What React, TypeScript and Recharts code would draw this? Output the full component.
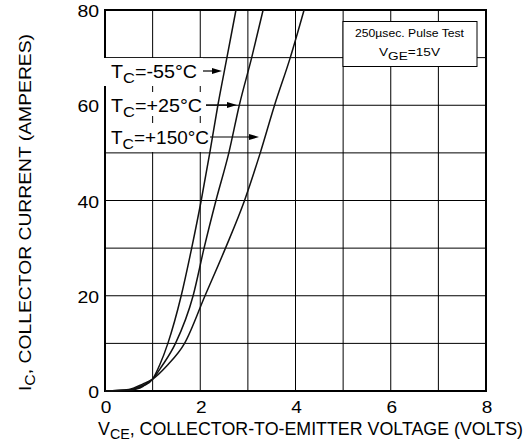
import { LineChart, Line, XAxis, YAxis, CartesianGrid, usePlotArea } from "recharts";

// I-V curves (VCE in volts, IC in amperes)
const T_MINUS55 = [
  { v: 0, i: 0 }, { v: 0.5, i: 0.15 }, { v: 0.8, i: 1.0 }, { v: 1.0, i: 2.5 },
  { v: 1.15, i: 5.5 }, { v: 1.32, i: 10 }, { v: 1.6, i: 20 }, { v: 1.82, i: 30 },
  { v: 2.02, i: 40 }, { v: 2.2, i: 50 }, { v: 2.37, i: 60 }, { v: 2.56, i: 70 }, { v: 2.75, i: 80 },
];
const T_PLUS25 = [
  { v: 0, i: 0 }, { v: 0.5, i: 0.2 }, { v: 0.8, i: 1.2 }, { v: 1.0, i: 2.5 },
  { v: 1.2, i: 5.3 }, { v: 1.48, i: 10 }, { v: 1.85, i: 20 }, { v: 2.08, i: 30 },
  { v: 2.33, i: 40 }, { v: 2.6, i: 50 }, { v: 2.82, i: 60 }, { v: 3.08, i: 70 }, { v: 3.32, i: 80 },
];
const T_PLUS150 = [
  { v: 0, i: 0 }, { v: 0.5, i: 0.3 }, { v: 0.8, i: 1.5 }, { v: 1.0, i: 2.5 },
  { v: 1.3, i: 5.3 }, { v: 1.67, i: 10 }, { v: 2.1, i: 20 },
  { v: 2.53, i: 30 }, { v: 2.93, i: 40 }, { v: 3.26, i: 50 }, { v: 3.56, i: 60 },
  { v: 3.89, i: 70 }, { v: 4.18, i: 80 },
];

const X_TICKS = [0, 1, 2, 3, 4, 5, 6, 7, 8];
const Y_TICKS = [0, 10, 20, 30, 40, 50, 60, 70, 80];

const FONT = "'Liberation Sans', Arial, sans-serif";

function Frame() {
  const p = usePlotArea();
  if (!p) return null;
  return <rect x={p.x} y={p.y} width={p.width} height={p.height} fill="none" stroke="#000" strokeWidth={2} />;
}

function XTick({ x, y, payload }: any) {
  const v = payload.value;
  if (v % 2 !== 0) return null;
  const s = String(v);
  return (
    <text x={x + 1} y={y + 16} textAnchor="middle" fontSize={16} fontFamily={FONT} fill="#000"
      textLength={s.length * 10.6} lengthAdjust="spacingAndGlyphs">
      {s}
    </text>
  );
}

function YTick({ x, y, payload }: any) {
  const v = payload.value;
  if (v % 20 !== 0) return null;
  const s = String(v);
  return (
    <text x={x} y={y + 7} textAnchor="end" fontSize={16} fontFamily={FONT} fill="#000"
      textLength={s.length * 10.8} lengthAdjust="spacingAndGlyphs">
      {s}
    </text>
  );
}

function TempLabel({ y, left, top, h, w, temp, len, arrowTo, arrowFrom }: any) {
  return (
    <g>
      <rect x={left} y={top} width={w} height={h} fill="#fff" />
      <text x={111} y={y + 7} fontSize={18} fontFamily={FONT} fill="#000" textLength={len} lengthAdjust="spacingAndGlyphs">
        T<tspan fontSize={15} dy={5}>C</tspan>
        <tspan dy={-5}>={temp}</tspan>
      </text>
      <line x1={arrowFrom} y1={y} x2={arrowTo - 8} y2={y} stroke="#000" strokeWidth={1.2} />
      <polygon points={`${arrowTo},${y} ${arrowTo - 10},${y - 3} ${arrowTo - 10},${y + 3}`} fill="#000" />
    </g>
  );
}

export default function App() {
  return (
    <div style={{ position: "absolute", left: 0, top: 0, width: 530, height: 442, background: "#fff" }}>
      <LineChart width={530} height={442} margin={{ top: 10, right: 44, bottom: 21, left: 45 }}>
        <CartesianGrid stroke="#000" strokeWidth={1} horizontalValues={Y_TICKS} verticalValues={X_TICKS} />
        <XAxis
          type="number"
          dataKey="v"
          domain={[0, 8]}
          ticks={X_TICKS}
          interval={0}
          axisLine={false}
          tickLine={false}
          tick={<XTick />}
          height={30}
          tickMargin={0}
        />
        <YAxis
          type="number"
          dataKey="i"
          domain={[0, 80]}
          ticks={Y_TICKS}
          interval={0}
          axisLine={false}
          tickLine={false}
          tick={<YTick />}
          width={60}
          tickMargin={0}
        />
        <Line data={T_MINUS55} dataKey="i" type="monotone" stroke="#111" strokeWidth={1.5} dot={false} isAnimationActive={false} />
        <Line data={T_PLUS25} dataKey="i" type="monotone" stroke="#111" strokeWidth={1.5} dot={false} isAnimationActive={false} />
        <Line data={T_PLUS150} dataKey="i" type="monotone" stroke="#111" strokeWidth={1.5} dot={false} isAnimationActive={false} />
        <Frame />
        <TempLabel y={71} left={104} top={58} h={28} w={99} temp="-55°C" len={86} arrowFrom={203} arrowTo={222} />
        <TempLabel y={105} left={106} top={92} h={24} w={100} temp="+25°C" len={91} arrowFrom={206} arrowTo={237} />
        <TempLabel y={137} left={106} top={123} h={29} w={104} temp="+150°C" len={98} arrowFrom={210} arrowTo={259} />
        <g>
          <rect x={343} y={21.5} width={134} height={45} fill="#fff" stroke="#000" strokeWidth={1} />
          <text x={355} y={37} fontSize={11.5} fontFamily={FONT} fill="#000" textLength={109} lengthAdjust="spacingAndGlyphs">
            250µsec. Pulse Test
          </text>
          <text x={379} y={55.5} fontSize={11.5} fontFamily={FONT} fill="#000" textLength={61} lengthAdjust="spacingAndGlyphs">
            V<tspan fontSize={11.5} dy={4}>GE</tspan>
            <tspan dy={-4}>=15V</tspan>
          </text>
        </g>
        <text x={98} y={435} fontSize={17.5} fontFamily={FONT} fill="#000" textLength={425} lengthAdjust="spacingAndGlyphs">
          V<tspan fontSize={14} dy={4}>CE</tspan>
          <tspan dy={-4}>, COLLECTOR-TO-EMITTER VOLTAGE (VOLTS)</tspan>
        </text>
        <text
          x={0}
          y={0}
          fontSize={17}
          fontFamily={FONT}
          fill="#000"
          textLength={357}
          lengthAdjust="spacingAndGlyphs"
          transform="translate(31 391) rotate(-90)"
        >
          I<tspan fontSize={14} dy={4}>C</tspan>
          <tspan dy={-4}>, COLLECTOR CURRENT (AMPERES)</tspan>
        </text>
      </LineChart>
    </div>
  );
}
